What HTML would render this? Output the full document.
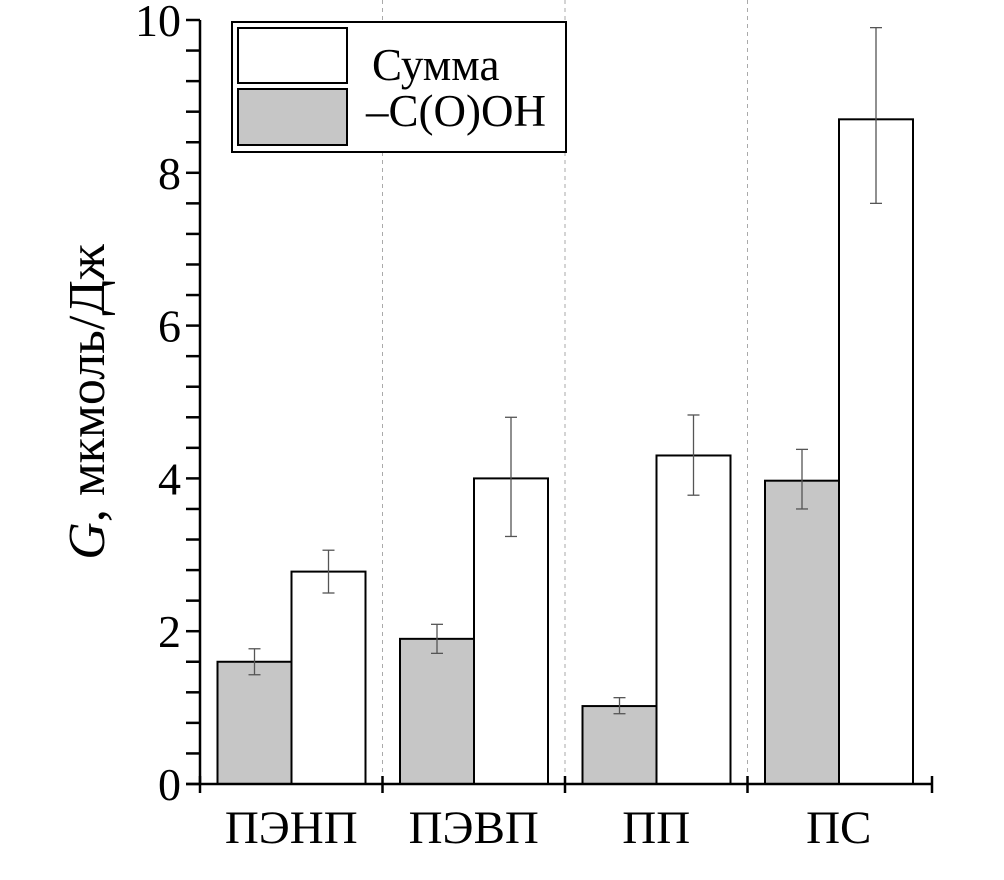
<!DOCTYPE html>
<html><head><meta charset="utf-8">
<style>
html,body{margin:0;padding:0;background:#fff;}
svg{display:block;font-family:"Liberation Serif",serif;}
</style></head>
<body>
<svg id="chart" width="1004" height="880" viewBox="0 0 1004 880" xmlns="http://www.w3.org/2000/svg"></svg>
<script>
const categories = ["ПЭНП","ПЭВП","ПП","ПС"];
const acidValues = [1.6, 1.9, 1.02, 3.97];
const acidLow = [1.43, 1.71, 0.92, 3.6];
const acidHigh = [1.77, 2.09, 1.13, 4.38];
const sumValues = [2.78, 4.0, 4.3, 8.7];
const sumLow = [2.5, 3.24, 3.78, 7.6];
const sumHigh = [3.06, 4.8, 4.83, 9.9];
const yTicks = [0, 2, 4, 6, 8, 10];

const NS = "http://www.w3.org/2000/svg";
const svg = document.getElementById("chart");
const x0 = 200, xEnd = 932, groupW = 182.5, barW = 74;
const yPx = v => 784 - v * 76.4;
const groupStart = i => x0 + i * groupW;
function mk(tag, attrs, parent) {
  const e = document.createElementNS(NS, tag);
  for (const k in attrs) e.setAttribute(k, attrs[k]);
  (parent || svg).appendChild(e);
  return e;
}
for (let i = 1; i < categories.length; i++) {
  const d = mk("line", {x1: groupStart(i), x2: groupStart(i), y1: 0, y2: 784, stroke: "#aaa", "stroke-width": 1, "stroke-dasharray": "4,4"});
  
  
}
categories.forEach((c, i) => {
  const gx = groupStart(i) + 17.5;
  const b1 = mk("rect", {x: gx, y: yPx(acidValues[i]), width: barW, height: 784 - yPx(acidValues[i]), fill: "#c6c6c6", stroke: "#000", "stroke-width": 2});
  
  
  const b2 = mk("rect", {x: gx + barW, y: yPx(sumValues[i]), width: barW, height: 784 - yPx(sumValues[i]), fill: "#fff", stroke: "#000", "stroke-width": 2});
  
  
  [[gx + barW / 2, acidLow[i], acidHigh[i]], [gx + barW * 1.5, sumLow[i], sumHigh[i]]].forEach(([cx, lo, hi]) => {
    const g = mk("g", {stroke: "#555", "stroke-width": 1.3});
    
    
    mk("line", {x1: cx, x2: cx, y1: yPx(lo), y2: yPx(hi)}, g);
    mk("line", {x1: cx - 6, x2: cx + 6, y1: yPx(lo), y2: yPx(lo)}, g);
    mk("line", {x1: cx - 6, x2: cx + 6, y1: yPx(hi), y2: yPx(hi)}, g);
  });
  const t = mk("text", {x: groupStart(i) + groupW / 2, y: 843, "text-anchor": "middle", "font-size": 47});
  t.textContent = c;
  
  
});
const ax = mk("g", {stroke: "#000", "stroke-width": 2.5});


mk("line", {x1: x0, x2: x0, y1: 20, y2: 785}, ax);
mk("line", {x1: 186, x2: xEnd, y1: 784, y2: 784}, ax);
for (let i = 0; i <= categories.length; i++) {
  const tx = i < categories.length ? groupStart(i) : xEnd;
  mk("line", {x1: tx, x2: tx, y1: 776, y2: 793}, ax);
}
for (let v = 0; v <= 10.001; v += 0.4) {
  mk("line", {x1: 186, x2: x0, y1: yPx(v), y2: yPx(v)}, ax);
}
yTicks.forEach(v => {
  const t = mk("text", {x: 181, y: yPx(v) + 16, "text-anchor": "end", "font-size": 46});
  t.textContent = v;
  
  
});
const yt = mk("text", {transform: "translate(104,402) rotate(-90)", "text-anchor": "middle", "font-size": 52});
yt.innerHTML = '<tspan font-style="italic">G</tspan>, мкмоль/Дж';


const lg = mk("g", {});


mk("rect", {x: 232, y: 22, width: 334, height: 130, fill: "#fff", stroke: "#000", "stroke-width": 2}, lg);
mk("rect", {x: 238, y: 28, width: 109, height: 55, fill: "#fff", stroke: "#000", "stroke-width": 2}, lg);
mk("rect", {x: 238, y: 89, width: 109, height: 56, fill: "#c6c6c6", stroke: "#000", "stroke-width": 2}, lg);
const l1 = mk("text", {x: 372, y: 80, "font-size": 45}, lg);
l1.textContent = "Сумма";


const l2 = mk("text", {x: 366, y: 126, "font-size": 45}, lg);
l2.textContent = "–C(O)OH";


</script>
</body></html>
